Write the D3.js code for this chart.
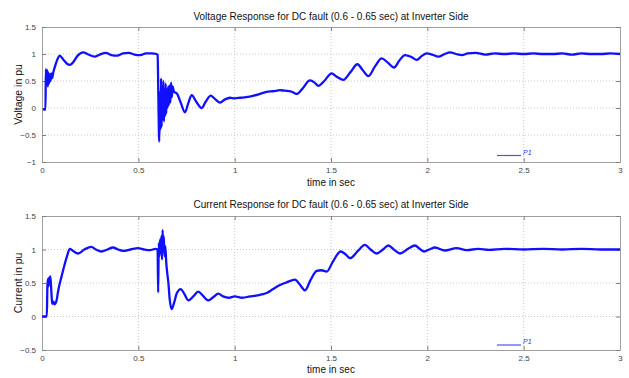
<!DOCTYPE html>
<html><head><meta charset="utf-8">
<script src="https://cdn.jsdelivr.net/npm/d3@7"></script>
<style>body{margin:0;background:#fff}svg{display:block}text{font-family:"Liberation Sans",Arial,sans-serif}</style>
</head><body><svg id="c" width="629" height="378"></svg>
<script>
const xTicks = [0, 0.5, 1, 1.5, 2, 2.5, 3];
const vTicks = [-1, -0.5, 0, 0.5, 1, 1.5];
const iTicks = [-0.5, 0, 0.5, 1, 1.5];

const timeV = [0.005,0.018,0.02,0.024,0.027,0.03,0.033,0.036,0.04,0.044,0.048,0.052,0.06,0.07,0.08,0.092,0.11,0.13,0.145,0.16,0.185,0.213,0.24,0.273,0.3,0.332,0.36,0.39,0.42,0.45,0.48,0.51,0.54,0.57,0.595,0.6,0.604,0.607,0.609,0.612,0.615,0.618,0.621,0.624,0.627,0.63,0.633,0.636,0.639,0.642,0.645,0.648,0.651,0.655,0.658,0.662,0.666,0.67,0.674,0.678,0.685,0.7,0.72,0.742,0.76,0.777,0.8,0.829,0.85,0.876,0.9,0.924,0.95,0.976,1.0,1.03,1.06,1.1,1.13,1.166,1.2,1.235,1.26,1.29,1.322,1.35,1.391,1.415,1.434,1.465,1.503,1.53,1.564,1.6,1.637,1.665,1.694,1.73,1.763,1.795,1.827,1.855,1.884,1.915,1.945,1.97,1.997,2.025,2.057,2.09,2.118,2.15,2.18,2.21,2.25,2.3,2.35,2.4,2.45,2.5,2.55,2.6,2.65,2.7,2.75,2.8,2.85,2.9,2.95,3.0];
const voltage = [-0.02,-0.03,0.72,0.45,0.7,0.4,0.66,0.45,0.62,0.5,0.64,0.55,0.68,0.8,0.9,0.97,0.9,0.82,0.8,0.84,0.97,1.03,0.99,0.95,0.99,1.02,0.98,0.97,1.01,1.02,0.99,0.98,1.01,1.01,1.0,0.98,0.2,-0.5,-0.62,0.3,-0.4,0.55,-0.35,0.4,-0.2,0.5,-0.25,0.3,-0.15,0.45,-0.1,0.35,0.0,0.4,0.05,0.42,0.1,0.47,0.2,0.4,0.3,0.27,0.1,-0.08,0.1,0.24,0.12,0.0,0.12,0.23,0.16,0.1,0.16,0.19,0.18,0.19,0.2,0.23,0.26,0.3,0.31,0.33,0.32,0.31,0.26,0.35,0.51,0.47,0.41,0.5,0.64,0.58,0.52,0.66,0.81,0.7,0.59,0.78,0.92,0.84,0.75,0.88,0.98,0.95,0.89,0.96,1.01,0.99,0.95,1.0,1.03,1.0,0.98,1.01,1.02,0.99,1.01,1.0,1.01,1.0,1.01,1.0,1.0,1.01,0.99,1.01,1.0,1.0,1.01,1.0];

const timeI = [0,0.025,0.028,0.031,0.034,0.037,0.04,0.043,0.046,0.05,0.053,0.06,0.065,0.074,0.085,0.1,0.115,0.13,0.144,0.16,0.187,0.22,0.256,0.28,0.308,0.34,0.368,0.395,0.42,0.46,0.498,0.53,0.56,0.59,0.6,0.603,0.606,0.61,0.613,0.616,0.62,0.623,0.626,0.629,0.632,0.636,0.64,0.645,0.65,0.656,0.663,0.673,0.685,0.7,0.72,0.74,0.76,0.785,0.811,0.835,0.863,0.89,0.915,0.94,0.97,1.0,1.04,1.08,1.11,1.14,1.166,1.2,1.235,1.27,1.313,1.34,1.365,1.395,1.426,1.45,1.478,1.51,1.55,1.575,1.599,1.64,1.676,1.705,1.737,1.77,1.797,1.83,1.858,1.9,1.936,1.96,1.983,2.01,2.04,2.09,2.152,2.204,2.264,2.32,2.4,2.5,2.6,2.7,2.8,2.9,3.0];
const current = [0,0,0.45,0.56,0.45,0.58,0.5,0.6,0.5,0.3,0.19,0.22,0.18,0.22,0.4,0.58,0.75,0.9,1.01,0.98,0.94,1.0,1.04,1.0,0.97,1.0,1.03,1.0,0.98,1.0,1.02,1.0,0.99,1.01,1.0,0.36,1.1,0.9,1.15,0.95,1.2,0.85,1.29,1.0,1.2,0.9,1.05,0.8,0.65,0.5,0.25,0.11,0.2,0.35,0.41,0.33,0.24,0.3,0.37,0.31,0.24,0.29,0.34,0.3,0.28,0.3,0.28,0.3,0.31,0.33,0.35,0.41,0.47,0.51,0.55,0.47,0.39,0.55,0.68,0.69,0.67,0.82,0.97,0.93,0.87,0.98,1.07,1.0,0.94,1.0,1.06,0.99,0.94,1.01,1.06,1.01,0.97,1.0,1.03,0.985,1.02,0.99,1.01,0.995,1.01,1.0,1.01,1.0,1.01,1.0,1.0];

const svg = d3.select("#c");
const L = 42, R = 620;
const x = d3.scaleLinear().domain([0, 3]).range([L, R]);

function panel(top, bottom, yDomain, yTicks, title, ylabel, ts, vs, titleY, xlabY, legY) {
  const y = d3.scaleLinear().domain(yDomain).range([bottom, top]);
  const g = svg.append("g");
  g.append("g").selectAll("line").data(xTicks.slice(1, -1)).join("line")
    .attr("x1", d => x(d)).attr("x2", d => x(d)).attr("y1", top).attr("y2", bottom)
    .attr("stroke", "#c8c8c8").attr("stroke-dasharray", "1,2");
  g.append("g").selectAll("line").data(yTicks.slice(1, -1)).join("line")
    .attr("y1", d => y(d)).attr("y2", d => y(d)).attr("x1", L).attr("x2", R)
    .attr("stroke", "#c8c8c8").attr("stroke-dasharray", "1,2");
  const ax = d3.axisBottom(x).tickValues(xTicks).tickSizeInner(-4).tickSizeOuter(0).tickPadding(5).tickFormat(d3.format("~g"));
  const gx = g.append("g").attr("transform", `translate(0,${bottom})`).call(ax);
  const axT = d3.axisTop(x).tickValues(xTicks).tickSizeInner(-4).tickSizeOuter(0).tickFormat("");
  const gxt = g.append("g").attr("transform", `translate(0,${top})`).call(axT);
  const ay = d3.axisLeft(y).tickValues(yTicks).tickSizeInner(-4).tickSizeOuter(0).tickPadding(6).tickFormat(d3.format("~g"));
  const gy = g.append("g").attr("transform", `translate(${L},0)`).call(ay);
  const ayR = d3.axisRight(y).tickValues(yTicks).tickSizeInner(-4).tickSizeOuter(0).tickFormat("");
  const gyr = g.append("g").attr("transform", `translate(${R},0)`).call(ayR);
  [gx, gxt, gy, gyr].forEach(a => {
    a.select(".domain").attr("stroke", "#a0a0a0");
    a.selectAll(".tick line").attr("stroke", "#808080");
    a.selectAll("text").attr("fill", "#444").attr("font-size", 8).attr("font-family", "Liberation Sans, Arial, sans-serif");
  });
  const data = ts.map((t, i) => [t, vs[i]]);
  g.append("path").datum(data)
    .attr("fill", "none").attr("stroke", "#1010ff").attr("stroke-width", 2.3).attr("stroke-linejoin", "round")
    .attr("d", d3.line().x(d => x(d[0])).y(d => y(d[1])).curve(d3.curveMonotoneX));
  g.append("line").attr("x1", 497).attr("x2", 521).attr("y1", legY).attr("y2", legY)
    .attr("stroke", "#5050ff").attr("stroke-width", 1.2);
  g.append("text").attr("x", 523).attr("y", legY - 1).attr("font-size", 7).attr("font-style", "italic")
    .attr("fill", "#3030ff").text("P1");
  svg.append("text").attr("x", (L + R) / 2).attr("y", titleY).attr("text-anchor", "middle")
    .attr("font-size", 10).attr("fill", "#111").text(title);
  svg.append("text").attr("x", (L + R) / 2).attr("y", xlabY).attr("text-anchor", "middle")
    .attr("font-size", 10).attr("fill", "#111").text("time in sec");
  svg.append("text").attr("transform", `translate(22,${(top + bottom) / 2}) rotate(-90)`)
    .attr("text-anchor", "middle").attr("font-size", 10.5).attr("fill", "#111").text(ylabel);
}

panel(27, 162, [-1, 1.5], vTicks, "Voltage Response for DC fault (0.6 - 0.65 sec) at Inverter Side", "Voltage in pu", timeV, voltage, 20, 186, 155.5);
panel(216, 350, [-0.5, 1.5], iTicks, "Current Response for DC fault (0.6 - 0.65 sec) at Inverter Side", "Current in pu", timeI, current, 208, 373, 345);
</script></body></html>
